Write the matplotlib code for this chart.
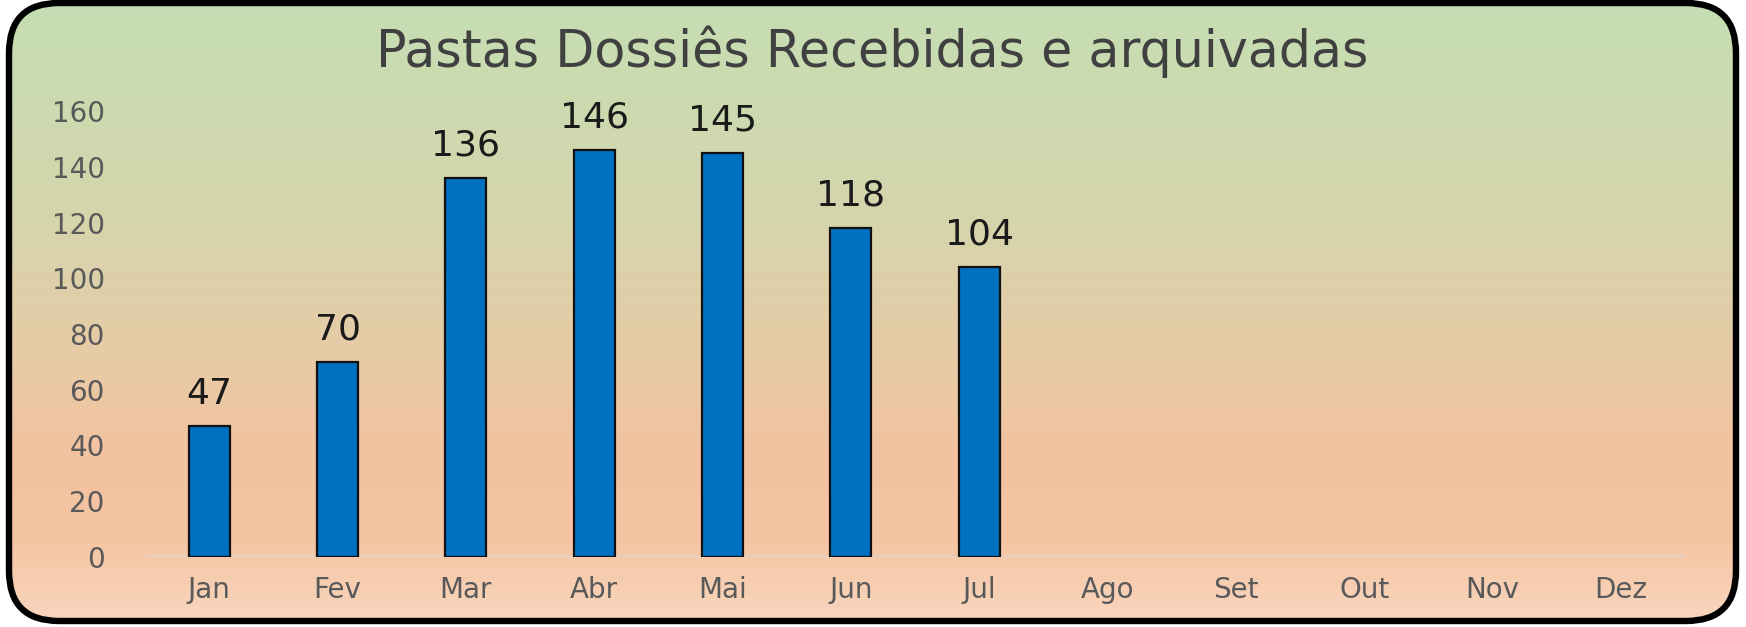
import numpy as np
import matplotlib
matplotlib.use("Agg")
import matplotlib.pyplot as plt
from matplotlib.patches import FancyBboxPatch
from matplotlib.colors import LinearSegmentedColormap

# ---- data ----
months = ["Jan", "Fev", "Mar", "Abr", "Mai", "Jun", "Jul", "Ago", "Set", "Out", "Nov", "Dez"]
values = [47, 70, 136, 146, 145, 118, 104]
yticks = [0, 20, 40, 60, 80, 100, 120, 140, 160]
title = "Pastas Dossiês Recebidas e arquivadas"

W, H = 1746, 627
fig = plt.figure(figsize=(W / 100, H / 100), dpi=100)
fig.patch.set_facecolor("white")

# background with rounded border and vertical gradient
bg = fig.add_axes([0, 0, 1, 1])
bg.set_xlim(0, W)
bg.set_ylim(H, 0)
bg.axis("off")
cmap = LinearSegmentedColormap.from_list(
    "bg",
    [(0.0, "#c5deb3"), (0.35, "#d6d5ac"), (0.55, "#e6cca7"),
     (0.72, "#f3c3a1"), (0.86, "#f5c4a2"), (1.0, "#f9d7bf")])
grad = np.linspace(0, 1, 300).reshape(-1, 1)
im = bg.imshow(grad, cmap=cmap, aspect="auto", extent=[0, W, H, 0], zorder=0)
box = FancyBboxPatch((9, 3), 1727, 618, boxstyle="round,pad=0,rounding_size=50",
                     facecolor="none", edgecolor="black", linewidth=4.6, zorder=2)
bg.add_patch(box)
im.set_clip_path(box)

# main plot
ax = fig.add_axes([145 / W, 70 / H, 1540 / W, (557 - 111) / H])
ax.patch.set_alpha(0)
x = np.arange(len(months))
bars = ax.bar(x[:len(values)], values, width=0.32, color="#0070c0",
              edgecolor="#111111", linewidth=1.6, zorder=3)
ax.set_xlim(-0.5, len(months) - 0.5)
ax.set_ylim(0, 160)
ax.set_xticks(x)
ax.set_xticklabels(months)
ax.set_yticks(yticks)
for s in ax.spines.values():
    s.set_visible(False)
ax.axhline(0, color="#d9d9d9", linewidth=1.6, zorder=2)
ax.tick_params(axis="both", length=0, colors="#595959", labelsize=20)
ax.tick_params(axis="y", pad=29)
ax.tick_params(axis="x", pad=14)

for xi, v in zip(x, values):
    ax.text(xi, v + 5.5, str(v), ha="center", va="bottom", fontsize=26,
            color="#1a1a1a")

fig.text(872 / W, 1 - 52 / H, title, ha="center", va="center",
         fontsize=36.5, color="#404040")

fig.savefig("out.png", dpi=100, facecolor="white")
